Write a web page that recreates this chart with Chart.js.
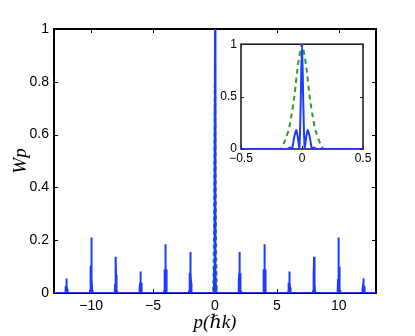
<!DOCTYPE html>
<html>
<head>
<meta charset="utf-8">
<script src="https://cdn.jsdelivr.net/npm/chart.js@4.4.1/dist/chart.umd.min.js"></script>
<style>
  html, body { margin: 0; padding: 0; background: #fff; }
  #wrap { position: relative; width: 415px; height: 336px; }
  #main { position: absolute; left: 0; top: 0; width: 415px; height: 336px; }
  #inset { position: absolute; left: 200px; top: 33px; width: 185px; height: 135px; }
</style>
</head>
<body>
<div id="wrap">
  <canvas id="main" width="415" height="336"></canvas>
  <canvas id="inset" width="185" height="135"></canvas>
</div>
<script>
// ── data ──────────────────────────────────────────────────────────
const xMin = -13, xMax = 13;
const xTicks = [-10, -5, 0, 5, 10];
const yTicks = [0, 0.2, 0.4, 0.6, 0.8, 1];
const insetXTicks = [-0.5, 0, 0.5];
const insetYTicks = [0, 0.5, 1];

// diffraction peaks (p in units of ħk) and their heights
const peakPos    = [-12, -10, -8, -6, -4, -2, 0, 2, 4, 6, 8, 10, 12];
const peakHeight = [0.055, 0.21, 0.137, 0.081, 0.185, 0.155, 1, 0.155, 0.185, 0.081, 0.137, 0.21, 0.055];

// shape of one peak (offset from peak centre, relative height), from the inset
const profOffset = [-0.12, -0.1, -0.082, -0.066, -0.048, -0.034, -0.022, -0.011, 0, 0.011, 0.022, 0.034, 0.048, 0.066, 0.082, 0.1, 0.12];
const profCentre = [0, 0.015, 0, 0.1, 0.18, 0.11, 0, 0.42, 1, 0.42, 0, 0.11, 0.18, 0.1, 0, 0.015, 0];
const profSide   = [0, 0.04, 0.05, 0.25, 0.48, 0.3, 0.05, 0.5, 1, 0.5, 0.05, 0.3, 0.48, 0.25, 0.05, 0.04, 0];

// initial momentum distribution (green dashed)
const greenX = [-0.18, -0.15, -0.11, -0.085, -0.063, -0.033, 0, 0.033, 0.063, 0.085, 0.11, 0.15, 0.18];
const greenY = [0, 0.05, 0.18, 0.33, 0.5, 0.8, 1, 0.8, 0.5, 0.33, 0.18, 0.05, 0];

const BLUE = '#1c3cff', GREEN = '#2e9e1e';

// ── build point lists ─────────────────────────────────────────────
function bluePoints(lo, hi, onlyCentre) {
  const pts = [{x: lo, y: 0}];
  peakPos.forEach((p, i) => {
    if (onlyCentre && p !== 0) return;
    const prof = p === 0 ? profCentre : profSide;
    profOffset.forEach((o, j) => pts.push({x: p + o, y: peakHeight[i] * prof[j]}));
  });
  pts.push({x: hi, y: 0});
  return pts;
}
function greenPoints(lo, hi) {
  return [{x: lo, y: 0}, ...greenX.map((x, i) => ({x, y: greenY[i]})), {x: hi, y: 0}];
}

// box + inward ticks, matlab style
const framePlugin = {
  id: 'frame',
  beforeDatasetsDraw(chart, args, o) {
    const {ctx, chartArea: a, scales: {x, y}} = chart;
    ctx.save();
    ctx.strokeStyle = o.color;
    ctx.lineWidth = 1;
    ctx.beginPath();
    x.ticks.forEach(t => {
      const px = Math.round(x.getPixelForValue(t.value)) + 0.5;
      ctx.moveTo(px, a.bottom); ctx.lineTo(px, a.bottom - o.tick);
      ctx.moveTo(px, a.top);    ctx.lineTo(px, a.top + o.tick);
    });
    y.ticks.forEach(t => {
      const py = Math.round(y.getPixelForValue(t.value)) + 0.5;
      ctx.moveTo(a.left, py);  ctx.lineTo(a.left + o.tick, py);
      ctx.moveTo(a.right, py); ctx.lineTo(a.right - o.tick, py);
    });
    ctx.stroke();
    ctx.lineWidth = o.width;
    ctx.strokeRect(a.left, a.top, a.right - a.left, a.bottom - a.top);
    ctx.restore();
  }
};

const fmt = v => (v < 0 ? '\u2212' : '') + String(+Math.abs(v).toFixed(2));

// ── main plot ─────────────────────────────────────────────────────
new Chart(document.getElementById('main'), {
  type: 'line',
  data: { datasets: [
    {data: bluePoints(xMin, xMax, false), borderColor: BLUE, borderWidth: 2, pointRadius: 0, tension: 0},
    {data: greenPoints(xMin, xMax), borderColor: GREEN, borderWidth: 1.5, borderDash: [4, 3], pointRadius: 0, tension: 0}
  ]},
  options: {
    responsive: false, animation: false, parsing: false,
    layout: {padding: {left: 0, top: 29, right: 39, bottom: 0}},
    plugins: {legend: {display: false}, tooltip: {enabled: false}, frame: {color: '#000', width: 2, tick: 4}},
    scales: {
      x: {type: 'linear', min: xMin, max: xMax,
        afterBuildTicks: s => { s.ticks = xTicks.map(v => ({value: v})); },
        afterFit: s => { s.height = 43; },
        grid: {display: false, drawTicks: false}, border: {display: false},
        ticks: {color: '#000', padding: 5, maxRotation: 0, font: {family: 'Liberation Sans', size: 14}, callback: v => fmt(v)},
        title: {display: true, text: 'p(\u210Fk)', color: '#000', padding: {top: 0, bottom: 2},
          font: {family: "'Liberation Serif', 'DejaVu Serif'", style: 'italic', size: 19}}},
      y: {min: 0, max: 1,
        afterBuildTicks: s => { s.ticks = yTicks.map(v => ({value: v})); },
        afterFit: s => { s.width = 54; },
        grid: {display: false, drawTicks: false}, border: {display: false},
        ticks: {color: '#000', padding: 5, font: {family: 'Liberation Sans', size: 14}, callback: v => fmt(v)},
        title: {display: true, text: 'Wp', color: '#000', padding: {top: 10, bottom: 0},
          font: {family: "'Liberation Serif', 'DejaVu Serif'", style: 'italic', size: 19}}}
    }
  },
  plugins: [framePlugin]
});

// ── inset ─────────────────────────────────────────────────────────
new Chart(document.getElementById('inset'), {
  type: 'line',
  data: { datasets: [
    {data: bluePoints(-0.5, 0.5, true), borderColor: BLUE, borderWidth: 2, pointRadius: 0, tension: 0.3},
    {data: greenPoints(-0.5, 0.5), borderColor: GREEN, borderWidth: 2, borderDash: [5, 4], pointRadius: 0, tension: 0.2}
  ]},
  options: {
    responsive: false, animation: false, parsing: false,
    layout: {padding: {left: 0, top: 10, right: 22, bottom: 0}},
    plugins: {legend: {display: false}, tooltip: {enabled: false}, frame: {color: '#222', width: 1.6, tick: 3}},
    scales: {
      x: {type: 'linear', min: -0.5, max: 0.5,
        afterBuildTicks: s => { s.ticks = insetXTicks.map(v => ({value: v})); },
        afterFit: s => { s.height = 19; },
        grid: {display: false, drawTicks: false}, border: {display: false},
        ticks: {color: '#000', padding: 2, maxRotation: 0, font: {family: 'Liberation Sans', size: 12}, callback: v => fmt(v)}},
      y: {min: 0, max: 1,
        afterBuildTicks: s => { s.ticks = insetYTicks.map(v => ({value: v})); },
        afterFit: s => { s.width = 41; },
        grid: {display: false, drawTicks: false}, border: {display: false},
        ticks: {color: '#000', padding: 4, font: {family: 'Liberation Sans', size: 12}, callback: v => fmt(v)}}
    }
  },
  plugins: [framePlugin]
});
</script>
</body>
</html>
